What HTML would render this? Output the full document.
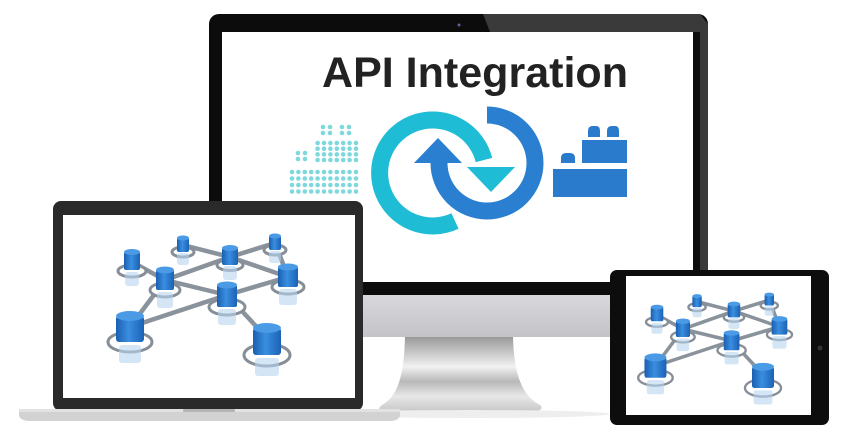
<!DOCTYPE html>
<html><head><meta charset="utf-8"><style>
html,body{margin:0;padding:0;background:#fff;width:851px;height:448px;overflow:hidden}
svg{display:block}
</style></head><body>
<svg width="851" height="448" viewBox="0 0 851 448" xmlns="http://www.w3.org/2000/svg">
<defs>
<linearGradient id="chin" x1="0" y1="0" x2="0" y2="1">
<stop offset="0" stop-color="#d8d8dc"/><stop offset="1" stop-color="#c4c4c8"/></linearGradient>
<linearGradient id="stand" x1="0" y1="0" x2="0" y2="1">
<stop offset="0" stop-color="#9a9a9a"/><stop offset="0.25" stop-color="#d0d0d0"/><stop offset="0.4" stop-color="#f2f2f2"/><stop offset="0.6" stop-color="#b8b8b8"/><stop offset="0.8" stop-color="#e8e8e8"/><stop offset="1" stop-color="#c8c8c8"/></linearGradient>
<linearGradient id="cyl" x1="0" y1="0" x2="1" y2="0">
<stop offset="0" stop-color="#1a5fb0"/><stop offset="0.45" stop-color="#3a8ee0"/><stop offset="1" stop-color="#1b62b5"/></linearGradient>
<g id="net">
<g stroke="#8a929c" stroke-width="4.5" fill="none">
<line x1="132" y1="262" x2="165" y2="280"/><line x1="183" y1="245" x2="230" y2="257"/>
<line x1="230" y1="257" x2="275" y2="243"/><line x1="230" y1="257" x2="288" y2="277"/>
<line x1="275" y1="243" x2="288" y2="277"/><line x1="165" y1="280" x2="230" y2="257"/>
<line x1="165" y1="280" x2="227" y2="295"/><line x1="227" y1="295" x2="288" y2="277"/>
<line x1="165" y1="280" x2="130" y2="327"/><line x1="130" y1="327" x2="227" y2="295"/>
<line x1="227" y1="295" x2="267" y2="338"/>
</g>
<g fill="#fff" stroke="#868e98" stroke-width="3">
<ellipse cx="132" cy="271" rx="14" ry="6"/><ellipse cx="183" cy="252" rx="11" ry="5"/>
<ellipse cx="230" cy="265" rx="13" ry="5.5"/><ellipse cx="275" cy="250" rx="11" ry="5"/>
<ellipse cx="165" cy="290" rx="15" ry="7"/><ellipse cx="288" cy="287" rx="16" ry="7"/>
<ellipse cx="227" cy="307" rx="18" ry="8"/><ellipse cx="130" cy="342" rx="22" ry="10"/>
<ellipse cx="267" cy="355" rx="23" ry="11"/>
</g>
<g fill="#b8d4ef" opacity="0.6">
<rect x="125" y="272" width="14" height="14" rx="3"/><rect x="177" y="253" width="12" height="12" rx="3"/>
<rect x="223" y="266" width="14" height="14" rx="3"/><rect x="269" y="251" width="12" height="12" rx="3"/>
<rect x="157" y="292" width="16" height="16" rx="3"/><rect x="279" y="289" width="18" height="16" rx="3"/>
<rect x="218" y="309" width="18" height="16" rx="3"/><rect x="119" y="345" width="22" height="18" rx="3"/>
<rect x="255" y="358" width="24" height="18" rx="3"/>
</g>
<g fill="url(#cyl)">
<rect x="124" y="252" width="16" height="18" rx="2"/><ellipse cx="132" cy="252" rx="8" ry="3" fill="#4a9ae6"/>
<rect x="177" y="238" width="12" height="14" rx="2"/><ellipse cx="183" cy="238" rx="6" ry="2.5" fill="#4a9ae6"/>
<rect x="222" y="248" width="16" height="17" rx="2"/><ellipse cx="230" cy="248" rx="8" ry="3" fill="#4a9ae6"/>
<rect x="269" y="236" width="12" height="14" rx="2"/><ellipse cx="275" cy="236" rx="6" ry="2.5" fill="#4a9ae6"/>
<rect x="156" y="270" width="18" height="20" rx="2"/><ellipse cx="165" cy="270" rx="9" ry="3.5" fill="#4a9ae6"/>
<rect x="278" y="267" width="20" height="20" rx="2"/><ellipse cx="288" cy="267" rx="10" ry="3.5" fill="#4a9ae6"/>
<rect x="217" y="285" width="20" height="22" rx="2"/><ellipse cx="227" cy="285" rx="10" ry="3.5" fill="#4a9ae6"/>
<rect x="116" y="316" width="28" height="26" rx="3"/><ellipse cx="130" cy="316" rx="14" ry="5" fill="#4a9ae6"/>
<rect x="253" y="328" width="28" height="27" rx="3"/><ellipse cx="267" cy="328" rx="14" ry="5" fill="#4a9ae6"/>
</g>
</g>
</defs>

<!-- Monitor -->
<rect x="209" y="14" width="499" height="282" rx="10" fill="#0c0c0c"/>
<polygon points="483,14 700,14 708,24 708,296 700,296 700,32 490,32" fill="#3a3a3a"/>
<rect x="222" y="32" width="471" height="250" fill="#fff"/>
<circle cx="459" cy="25" r="1.5" fill="#6a5a9a"/>
<rect x="209" y="295" width="499" height="42" fill="url(#chin)"/>
<path d="M405,337 L513,337 C514,370 520,395 540,405 Q545,410 535,411 L385,411 Q375,410 382,405 C400,395 404,370 405,337 Z" fill="url(#stand)"/>
<ellipse cx="470" cy="414" rx="140" ry="4" fill="#eeeeee"/>

<!-- Title -->
<text x="322" y="87" font-family="Liberation Sans, sans-serif" font-weight="bold" font-size="43" fill="#222" textLength="306" lengthAdjust="spacingAndGlyphs">API Integration</text>

<!-- dots -->
<g fill="#7fd8dc">
<g id="r1"><circle cx="292" cy="172" r="2.3"/><circle cx="298.4" cy="172" r="2.3"/><circle cx="304.8" cy="172" r="2.3"/><circle cx="311.2" cy="172" r="2.3"/><circle cx="317.6" cy="172" r="2.3"/><circle cx="324" cy="172" r="2.3"/><circle cx="330.4" cy="172" r="2.3"/><circle cx="336.8" cy="172" r="2.3"/><circle cx="343.2" cy="172" r="2.3"/><circle cx="349.6" cy="172" r="2.3"/><circle cx="356" cy="172" r="2.3"/></g>
<use href="#r1" y="6.5"/><use href="#r1" y="13"/><use href="#r1" y="19.5"/>
<g id="r2"><circle cx="317.6" cy="143" r="2.3"/><circle cx="324" cy="143" r="2.3"/><circle cx="330.4" cy="143" r="2.3"/><circle cx="336.8" cy="143" r="2.3"/><circle cx="343.2" cy="143" r="2.3"/><circle cx="349.6" cy="143" r="2.3"/><circle cx="356" cy="143" r="2.3"/></g>
<use href="#r2" y="5.7"/><use href="#r2" y="11.4"/><use href="#r2" y="17"/>
<circle cx="298" cy="153" r="2.3"/><circle cx="305" cy="153" r="2.3"/><circle cx="298" cy="159" r="2.3"/><circle cx="305" cy="159" r="2.3"/>
<circle cx="323" cy="127" r="2.3"/><circle cx="330" cy="127" r="2.3"/><circle cx="323" cy="133" r="2.3"/><circle cx="330" cy="133" r="2.3"/>
<circle cx="342" cy="127" r="2.3"/><circle cx="349" cy="127" r="2.3"/><circle cx="342" cy="133" r="2.3"/><circle cx="349" cy="133" r="2.3"/>
</g>

<!-- sync icon -->
<path d="M487,115 A48,48 0 1 1 439,163" fill="none" stroke="#2a7fd0" stroke-width="17"/>
<polygon points="414,163 462,163 438,138" fill="#2a7fd0"/>
<path d="M452,221 A53,53 0 1 1 485,166" fill="none" stroke="#fff" stroke-width="22" transform="translate(0,0)" opacity="0"/>
<path d="M455,221 A53,53 0 1 1 484,160" fill="none" stroke="#1fbcd6" stroke-width="17"/>
<polygon points="467,167 515,167 491,192" fill="#1fbcd6"/>

<!-- lego -->
<g fill="#2a7bcc">
<rect x="553" y="169" width="74" height="28"/>
<rect x="582" y="140" width="45" height="23"/>
<path d="M561,163 L561,158 Q561,153 566,153 L570,153 Q575,153 575,158 L575,163 Z"/>
<path d="M588,137 L588,131 Q588,126 593,126 L596,126 Q600,126 600,131 L600,137 Z"/>
<path d="M607,137 L607,131 Q607,126 612,126 L615,126 Q619,126 619,131 L619,137 Z"/>
</g>

<!-- Laptop -->
<rect x="53" y="201" width="310" height="210" rx="8" fill="#2a2a2a"/>
<rect x="63" y="215" width="292" height="183" fill="#fff"/>
<path d="M19,409 L400,409 L400,416 Q398,421 390,421 L30,421 Q21,421 19,416 Z" fill="#d2d2d2"/>
<rect x="19" y="409" width="381" height="3" fill="#e2e2e2"/>
<rect x="183" y="409" width="52" height="3" rx="1" fill="#b5b5b5"/>
<use href="#net"/>

<!-- Tablet -->
<rect x="610" y="270" width="219" height="155" rx="7" fill="#0d0d0d"/>
<rect x="626" y="276" width="185" height="139" fill="#fff"/>
<circle cx="820" cy="348" r="2.5" fill="#333"/>
<g transform="translate(553.4,109.3) scale(0.785)"><use href="#net"/></g>
</svg>
</body></html>
